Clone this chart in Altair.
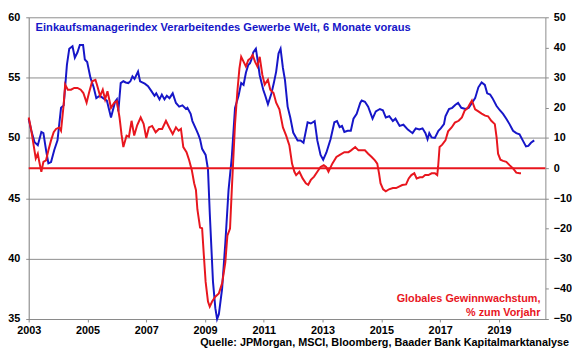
import altair as alt
import pandas as pd

# ---------------- data ----------------
blue_year = [
    2003.00, 2003.09, 2003.20, 2003.31, 2003.43, 2003.50, 2003.59, 2003.67, 2003.76, 2003.87,
    2003.98, 2004.10, 2004.19, 2004.30, 2004.38, 2004.49, 2004.57, 2004.66, 2004.74, 2004.85,
    2004.91, 2004.99, 2005.10, 2005.21, 2005.30, 2005.42, 2005.53, 2005.66, 2005.80, 2005.94,
    2006.00, 2006.05, 2006.13, 2006.22, 2006.30, 2006.39, 2006.46, 2006.53, 2006.60, 2006.72,
    2006.79, 2006.95, 2007.06, 2007.17, 2007.28, 2007.34, 2007.45, 2007.53, 2007.62, 2007.70,
    2007.79, 2007.90, 2008.01, 2008.12, 2008.23, 2008.35, 2008.40, 2008.51, 2008.57, 2008.70,
    2008.77, 2008.83, 2008.90, 2009.02, 2009.10, 2009.16, 2009.27, 2009.35, 2009.41, 2009.47,
    2009.58, 2009.69, 2009.80, 2009.91, 2010.02, 2010.14, 2010.23, 2010.31, 2010.39, 2010.47,
    2010.53, 2010.58, 2010.64, 2010.73, 2010.78, 2010.86, 2010.98, 2011.05, 2011.14, 2011.26,
    2011.34, 2011.42, 2011.50, 2011.57, 2011.65, 2011.72, 2011.81, 2011.90, 2012.00, 2012.15,
    2012.25, 2012.35, 2012.49, 2012.60, 2012.73, 2012.82, 2012.93, 2013.02, 2013.13, 2013.27,
    2013.40, 2013.49, 2013.58, 2013.66, 2013.74, 2013.85, 2013.96, 2014.05, 2014.16, 2014.28,
    2014.33, 2014.44, 2014.55, 2014.70, 2014.81, 2014.95, 2015.05, 2015.15, 2015.27, 2015.39,
    2015.48, 2015.62, 2015.75, 2015.90, 2016.06, 2016.17, 2016.29, 2016.40, 2016.50, 2016.57,
    2016.63, 2016.71, 2016.82, 2016.94, 2017.02, 2017.13, 2017.18, 2017.30, 2017.41, 2017.52,
    2017.61, 2017.72, 2017.86, 2017.97, 2018.08, 2018.19, 2018.30, 2018.41, 2018.52, 2018.60,
    2018.70, 2018.78, 2018.92, 2019.03, 2019.14, 2019.25, 2019.36, 2019.48, 2019.59, 2019.70,
    2019.81, 2019.92, 2020.00, 2020.09, 2020.20,
]
blue_value = [
    51.6, 50.6, 49.65, 49.4, 50.5, 50.4, 49.0, 47.9, 48.0, 49.0,
    49.8, 52.5, 52.7, 56.05, 57.4, 57.6, 56.65, 57.1, 57.7, 57.7,
    56.5, 56.3, 55.0, 54.2, 53.3, 53.5, 53.3, 53.1, 51.7, 53.0,
    53.2, 52.2, 54.55, 54.7, 54.6, 54.55, 54.7, 55.1, 54.9, 55.5,
    54.7, 54.5, 54.3, 53.9, 53.5, 53.7, 53.2, 53.6, 53.2, 53.5,
    53.3, 53.7, 52.9, 52.6, 52.7, 52.4, 52.5, 52.0, 51.4, 50.7,
    50.3, 49.9, 49.1, 48.6, 47.4, 43.8, 38.1, 35.9, 35.0, 35.4,
    37.5, 41.3, 45.7, 48.4, 52.5, 53.5, 54.55, 54.4, 55.4, 56.05,
    56.2, 56.5, 57.1, 57.4, 56.6, 55.2, 54.0, 53.5, 52.8, 53.7,
    54.55, 55.5, 57.0, 57.4, 55.8, 54.8, 52.6, 51.7, 50.45, 49.8,
    49.8, 49.6, 51.3, 51.2, 51.4, 49.8, 48.6, 48.2, 48.8, 49.9,
    51.3, 51.4, 50.9, 51.0, 50.5, 50.6, 50.6, 51.6, 52.0, 52.9,
    53.1, 53.0, 52.6, 51.6, 52.2, 52.4, 52.3, 51.7, 51.8, 51.4,
    51.6, 51.0, 51.1, 50.7, 50.4, 50.8, 50.7, 50.8, 50.4, 49.9,
    50.4, 50.05, 50.0, 50.6, 50.8, 51.15, 51.8, 52.4, 52.5, 52.75,
    52.9, 52.5, 52.4, 52.5, 52.9, 53.3, 54.2, 54.6, 54.4, 53.7,
    53.6, 53.3, 52.65, 52.3, 52.0, 51.6, 51.15, 50.6, 50.4, 50.3,
    49.8, 49.3, 49.35, 49.6, 49.8,
]

red_year = [
    2003.00, 2003.09, 2003.17, 2003.24, 2003.31, 2003.36, 2003.43, 2003.50, 2003.59, 2003.67,
    2003.76, 2003.85, 2003.93, 2004.04, 2004.10, 2004.19, 2004.24, 2004.33, 2004.44, 2004.55,
    2004.66, 2004.77, 2004.86, 2004.97, 2005.05, 2005.16, 2005.27, 2005.32, 2005.43, 2005.52,
    2005.60, 2005.68, 2005.80, 2005.91, 2006.00, 2006.09, 2006.16, 2006.22, 2006.33, 2006.41,
    2006.50, 2006.59, 2006.69, 2006.81, 2006.91, 2007.00, 2007.09, 2007.20, 2007.32, 2007.43,
    2007.54, 2007.67, 2007.78, 2007.90, 2008.01, 2008.10, 2008.18, 2008.26, 2008.37, 2008.46,
    2008.55, 2008.63, 2008.69, 2008.74, 2008.83, 2008.90, 2008.96, 2009.02, 2009.10, 2009.16,
    2009.24, 2009.35, 2009.47, 2009.58, 2009.69, 2009.76, 2009.85, 2009.91, 2009.97, 2010.02,
    2010.10, 2010.17, 2010.23, 2010.31, 2010.39, 2010.47, 2010.55, 2010.62, 2010.70, 2010.78,
    2010.86, 2010.95, 2011.03, 2011.14, 2011.22, 2011.33, 2011.42, 2011.53, 2011.65, 2011.76,
    2011.87, 2011.96, 2012.04, 2012.10, 2012.21, 2012.32, 2012.43, 2012.51, 2012.60, 2012.71,
    2012.82, 2012.93, 2013.04, 2013.12, 2013.20, 2013.33, 2013.47, 2013.60, 2013.74, 2013.88,
    2013.97, 2014.11, 2014.22, 2014.33, 2014.44, 2014.55, 2014.67, 2014.78, 2014.86, 2014.92,
    2014.97, 2015.06, 2015.15, 2015.26, 2015.39, 2015.50, 2015.60, 2015.71, 2015.84, 2015.93,
    2016.02, 2016.12, 2016.20, 2016.31, 2016.40, 2016.49, 2016.60, 2016.71, 2016.82, 2016.90,
    2016.93, 2016.98, 2017.07, 2017.18, 2017.27, 2017.39, 2017.50, 2017.63, 2017.74, 2017.83,
    2017.94, 2018.00, 2018.08, 2018.19, 2018.30, 2018.41, 2018.53, 2018.63, 2018.74, 2018.86,
    2018.92, 2018.97, 2019.05, 2019.14, 2019.25, 2019.36, 2019.48, 2019.59, 2019.70, 2019.75,
]
red_value = [
    16.8, 12.4, 7.5, 3.2, 4.8, 2.1, -1.2, 2.1, 2.6, 5.9,
    9.2, 11.9, 13.0, 13.5, 12.4, 21.1, 27.7, 26.0, 26.0, 26.6,
    26.6, 26.0, 24.9, 21.7, 24.9, 28.8, 29.3, 27.7, 23.9, 26.0,
    22.8, 25.5, 20.0, 21.7, 22.2, 16.8, 11.0, 7.0, 10.8, 10.4,
    15.7, 10.8, 14.2, 16.8, 14.7, 10.0, 13.5, 14.0, 11.9, 13.0,
    13.0, 15.7, 13.5, 11.3, 13.5, 12.4, 13.0, 7.0, 5.3, 2.6,
    -0.65, -5.0, -7.2, -13.7, -19.7, -19.9, -29.0, -37.7, -44.2, -45.9,
    -44.2, -42.6, -41.5, -38.2, -31.2, -22.4, -20.0, -7.2, 4.8, 14.6,
    25.5, 33.1, 36.9, 35.3, 33.7, 35.8, 36.4, 37.5, 35.3, 33.7,
    36.9, 30.9, 27.7, 29.3, 26.0, 24.9, 21.7, 19.5, 13.5, 10.8,
    7.5, 1.5, -1.2, -2.3, -1.2, -3.4, -5.0, -5.5, -3.9, -2.8,
    -1.2, 0.4, 1.0, 0.4, -1.2, 1.5, 3.7, 4.5, 5.3, 5.3,
    5.9, 7.0, 5.9, 5.9, 5.9, 4.8, 3.7, 2.6, 1.5, -1.7,
    -5.0, -7.0, -7.7, -7.0, -6.6, -6.6, -6.1, -5.6, -5.4, -3.4,
    -2.3, -1.7, -3.4, -3.0, -3.0, -2.3, -2.3, -1.7, -1.7, -2.3,
    0.4, 7.0, 7.8, 9.2, 12.2, 13.5, 15.1, 15.7, 16.8, 19.0,
    20.0, 21.1, 22.4, 19.5, 18.8, 18.1, 17.4, 17.2, 15.7, 14.6,
    10.2, 4.8, 2.8, 2.4, 2.1, 1.0, -0.1, -1.5, -1.7, -1.7,
]

x_ticks = [2003, 2005, 2007, 2009, 2011, 2013, 2015, 2017, 2019]
left_ticks = [35, 40, 45, 50, 55, 60]
right_ticks = [-50, -40, -30, -20, -10, 0, 10, 20, 30, 40, 50]
zero_line = [0]

title_text = ["Einkaufsmanagerindex Verarbeitendes Gewerbe Welt, 6 Monate voraus"]
red_label_1 = ["Globales Gewinnwachstum,"]
red_label_2 = ["% zum Vorjahr"]
source_text = ["Quelle: JPMorgan, MSCI, Bloomberg, Baader Bank Kapitalmarktanalyse"]

# ---------------- style ----------------
FONT = "Liberation Sans"
BLUE = "#1616c8"
RED = "#e8161e"
W, H = 524, 306

blue_df = pd.DataFrame({"year": blue_year, "pmi": blue_value})
red_df = pd.DataFrame({"year": red_year, "growth": red_value})
zero_df = pd.DataFrame({"growth": zero_line})

x_scale = alt.Scale(domain=[2003, 2020.58], nice=False, zero=False)
x_axis = alt.Axis(values=x_ticks, format="d", labelFlush=False, labelOverlap=False,
                  grid=False, tickSize=3, labelPadding=3, title=None)
left_scale = alt.Scale(domain=[35, 60], nice=False, zero=False)
left_axis = alt.Axis(values=left_ticks, orient="left", grid=True, tickSize=3,
                     labelPadding=6, title=None, domainColor="#7a7a7a")
right_scale = alt.Scale(domain=[-50, 50], nice=False, zero=False)
right_axis = alt.Axis(values=right_ticks, orient="right", grid=False, tickSize=3,
                      labelPadding=5, title=None, labelAlign="left")

blue_line = alt.Chart(blue_df).mark_line(color=BLUE, strokeWidth=2).encode(
    x=alt.X("year:Q", scale=x_scale, axis=x_axis),
    y=alt.Y("pmi:Q", scale=left_scale, axis=left_axis),
)

title_mark = alt.Chart(pd.DataFrame({"t": title_text})).mark_text(
    font=FONT, fontSize=11.3, fontWeight="bold", color=BLUE, align="left",
    baseline="alphabetic",
).encode(text="t:N", x=alt.value(7), y=alt.value(13.5))

source_mark = alt.Chart(pd.DataFrame({"t": source_text})).mark_text(
    font=FONT, fontSize=11, fontWeight="bold", color="#000000", align="right",
    baseline="alphabetic",
).encode(text="t:N", x=alt.value(548), y=alt.value(333.5))

left_group = alt.layer(blue_line, title_mark, source_mark)

zero_rule = alt.Chart(zero_df).mark_rule(color=RED, strokeWidth=2).encode(
    y=alt.Y("growth:Q", scale=right_scale, axis=right_axis),
)
red_line = alt.Chart(red_df).mark_line(color=RED, strokeWidth=2).encode(
    x=alt.X("year:Q", scale=x_scale, axis=x_axis),
    y=alt.Y("growth:Q", scale=right_scale, axis=right_axis),
)
red_lab1 = alt.Chart(pd.DataFrame({"t": red_label_1})).mark_text(
    font=FONT, fontSize=11, fontWeight="bold", color=RED, align="right",
    baseline="alphabetic",
).encode(text="t:N", x=alt.value(519), y=alt.value(289))
red_lab2 = alt.Chart(pd.DataFrame({"t": red_label_2})).mark_text(
    font=FONT, fontSize=11, fontWeight="bold", color=RED, align="right",
    baseline="alphabetic",
).encode(text="t:N", x=alt.value(519), y=alt.value(302.5))

right_group = alt.layer(zero_rule, red_line, red_lab1, red_lab2)

chart = alt.layer(left_group, right_group).resolve_scale(y="independent").properties(
    width=W, height=H,
    autosize=alt.AutoSizeParams(type="none"),
    padding={"left": 21, "top": 7, "right": 27, "bottom": 30},
    background="white",
).configure_view(strokeWidth=0).configure_axis(
    labelFont=FONT, labelFontSize=11, labelFontWeight="bold", labelColor="#000000",
    domainColor="#8a8a8a", tickColor="#8a8a8a", gridColor="#8c8c8c",
    domainWidth=1, gridWidth=1,
)

chart.save("out.html", embed_options={"renderer": "svg", "actions": False})
